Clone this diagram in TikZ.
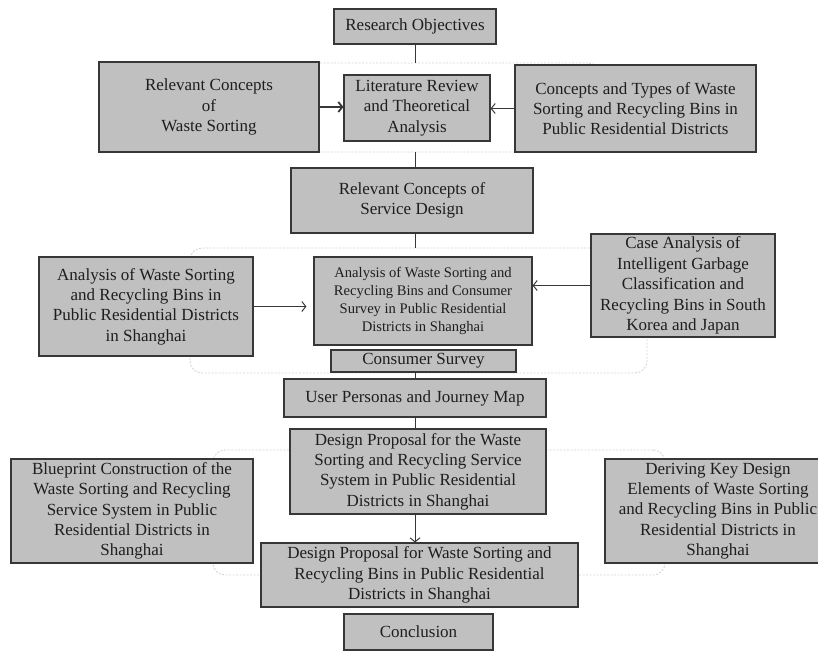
\documentclass[tikz,border=0pt]{standalone}
\usepackage{fontspec}
\setmainfont{Liberation Serif}
\usetikzlibrary{arrows.meta}
\definecolor{boxfill}{RGB}{192,192,192}
\definecolor{boxline}{RGB}{55,55,55}
\definecolor{txt}{RGB}{30,30,30}
\definecolor{framecol}{RGB}{212,212,212}
\begin{document}
\begin{tikzpicture}[x=1pt,y=-1pt,
  box/.style={draw=boxline, line width=1.1pt, fill=boxfill, text=txt, align=center, inner sep=0pt, font=\fontsize{17}{20.4}\selectfont},
  grp/.style={draw=framecol, dash pattern=on 2pt off 1.5pt, line width=0.9pt, rounded corners=12pt, inner sep=0pt},
  conn/.style={draw=boxline, line width=1pt},
  arr/.style={conn, -{Straight Barb[length=4pt,width=10pt]}}]
\useasboundingbox (0,0) rectangle (818,651);
\clip (0,0) rectangle (818,651);
% group frames
\node[grp, minimum width=350pt, minimum height=89pt] (f1) at (425,107.5) {};
\node[grp, minimum width=457pt, minimum height=125pt] (f2) at (418.5,310.5) {};
\node[grp, minimum width=452pt, minimum height=125pt] (f3) at (439,512.5) {};
% boxes
\node[box, minimum width=162pt, minimum height=35pt] (ro) at (415,26.5) {Research Objectives};
\node[box, minimum width=220pt, minimum height=90pt] (rcws) at (209,107) {Relevant Concepts\\of\\Waste Sorting};
\node[box, minimum width=146pt, minimum height=66pt] (lit) at (417,108) {Literature Review\\and Theoretical\\Analysis};
\node[box, minimum width=241pt, minimum height=87pt] (ct) at (635.5,108.5) {Concepts and Types of Waste\\Sorting and Recycling Bins in\\Public Residential Districts};
\node[box, minimum width=242pt, minimum height=65pt] (sd) at (412,200.5) {Relevant Concepts of\\Service Design};
\node[box, minimum width=214pt, minimum height=99pt] (aleft) at (146,306.5) {Analysis of Waste Sorting\\and Recycling Bins in\\Public Residential Districts\\in Shanghai};
\node[box, minimum width=218pt, minimum height=88pt, font=\fontsize{14.6}{18}\selectfont] (acen) at (423,301) {Analysis of Waste Sorting and\\Recycling Bins and Consumer\\Survey in Public Residential\\Districts in Shanghai};
\node[box, minimum width=184pt, minimum height=103pt] (case) at (683,285.5) {Case Analysis of\\Intelligent Garbage\\Classification and\\Recycling Bins in South\\Korea and Japan};
\node[box, minimum width=185pt, minimum height=22pt] (cs) at (423.5,361) {Consumer Survey};
\node[box, minimum width=262pt, minimum height=38pt] (up) at (415,398) {User Personas and Journey Map};
\node[box, minimum width=256pt, minimum height=85pt] (dps) at (418,471.5) {Design Proposal for the Waste\\Sorting and Recycling Service\\System in Public Residential\\Districts in Shanghai};
\node[box, minimum width=242pt, minimum height=104pt] (bp) at (132,511) {Blueprint Construction of the\\Waste Sorting and Recycling\\Service System in Public\\Residential Districts in\\Shanghai};
\node[box, minimum width=226pt, minimum height=104pt] (der) at (718,511) {Deriving Key Design\\Elements of Waste Sorting\\and Recycling Bins in Public\\Residential Districts in\\Shanghai};
\node[box, minimum width=317pt, minimum height=64pt] (dpb) at (419.5,575) {Design Proposal for Waste Sorting and\\Recycling Bins in Public Residential\\Districts in Shanghai};
\node[box, minimum width=149pt, minimum height=36pt] (con) at (418.5,632) {Conclusion};
% connectors
\draw[conn] (ro.south) -- (ro.south |- f1.north);
\draw[conn] (f1.south -| ro.south) -- (sd.north -| ro.south);
\draw[conn] (sd.south -| ro.south) -- (f2.north -| ro.south);
\draw[conn] (cs.south -| up.north) -- (up.north);
\draw[conn] (up.south) -- (dps.north -| up.south);
\draw[arr] (dps.south -| up.south) -- (dpb.north -| up.south);
\draw[arr, line width=1.8pt] (rcws.east) -- (rcws.east -| lit.west);
\draw[arr] (ct.west) -- (ct.west -| lit.east);
\draw[arr, shorten >=7pt] (aleft.east) -- (aleft.east -| acen.west);
\draw[arr] (case.west) -- (case.west -| acen.east);
\end{tikzpicture}
\end{document}
